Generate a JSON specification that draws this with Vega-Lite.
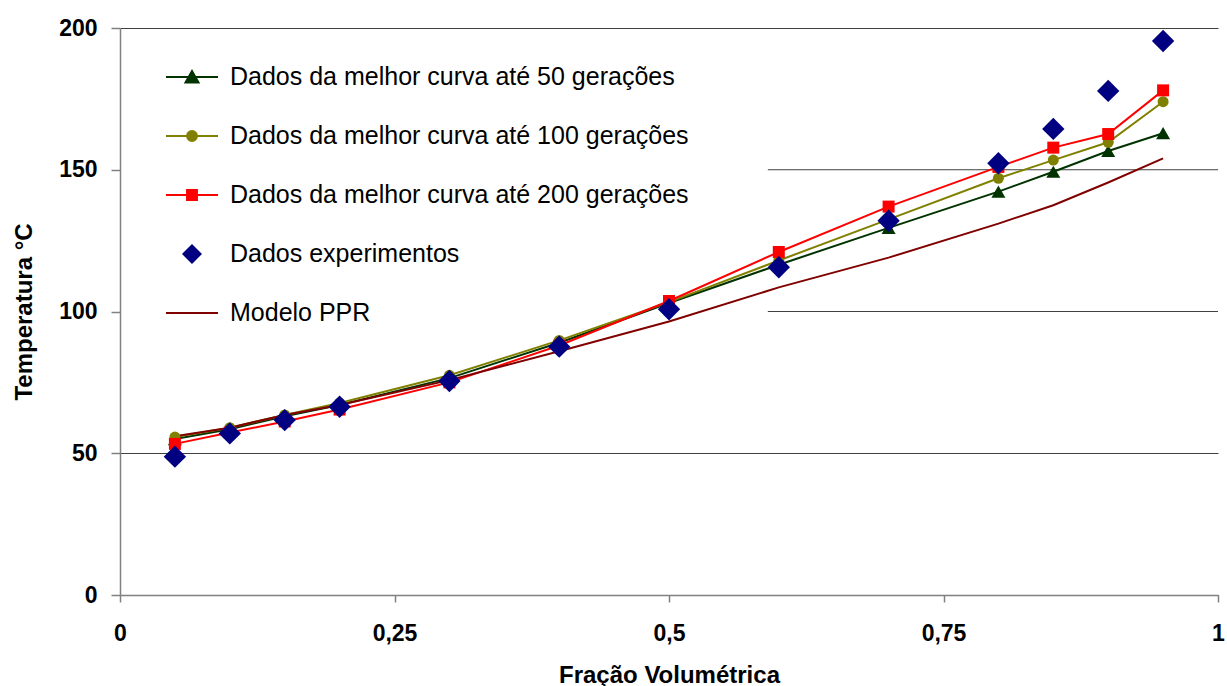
{
  "$schema": "https://vega.github.io/schema/vega-lite/v6.json",
  "width": 1098,
  "height": 567,
  "autosize": {"type": "none"},
  "padding": {"left": 120, "top": 28, "right": 9, "bottom": 91},
  "background": "white",
  "config": {
    "view": {"stroke": null},
    "font": "Liberation Sans"
  },
  "encoding": {
    "x": {
      "field": "x",
      "type": "quantitative",
      "scale": {"domain": [0, 1], "nice": false, "zero": false},
      "axis": {
        "title": "Fração Volumétrica",
        "values": [0, 0.25, 0.5, 0.75, 1],
        "labelExpr": "replace(toString(datum.value), '.', ',')",
        "grid": false,
        "domainColor": "#808080",
        "domainWidth": 1.5,
        "tickColor": "#808080",
        "tickWidth": 1.5,
        "tickSize": 7,
        "labelPadding": 20,
        "labelFont": "Liberation Sans",
        "labelFontSize": 23,
        "labelFontWeight": "bold",
        "labelColor": "black",
        "labelFlush": false,
        "labelOverlap": false,
        "titleFont": "Liberation Sans",
        "titleFontSize": 24,
        "titleFontWeight": "bold",
        "titleColor": "black",
        "titlePadding": 18
      }
    },
    "y": {
      "field": "T",
      "type": "quantitative",
      "scale": {"domain": [0, 200], "nice": false},
      "axis": {
        "title": "Temperatura °C",
        "values": [0, 50, 100, 150, 200],
        "grid": true,
        "gridColor": "#404040",
        "gridWidth": 1,
        "gridOpacity": {"condition": {"test": "datum.value === 100 || datum.value === 150", "value": 0}, "value": 1},
        "domainColor": "#808080",
        "domainWidth": 1.5,
        "tickColor": "#808080",
        "tickWidth": 1.5,
        "tickSize": 9,
        "labelPadding": 14,
        "labelFont": "Liberation Sans",
        "labelFontSize": 23,
        "labelFontWeight": "bold",
        "labelColor": "black",
        "labelFlush": false,
        "labelOverlap": false,
        "titleFont": "Liberation Sans",
        "titleFontSize": 24,
        "titleFontWeight": "bold",
        "titleColor": "black",
        "titlePadding": 22
      }
    }
  },
  "layer": [
    {
      "data": {"values": [{"xi": 0.59, "xf": 1, "T": 100}, {"xi": 0.59, "xf": 1, "T": 150}]},
      "mark": {"type": "rule", "color": "#404040", "strokeWidth": 1},
      "encoding": {
        "x": {"field": "xi", "type": "quantitative"},
        "x2": {"field": "xf"},
        "y": {"field": "T", "type": "quantitative"}
      }
    },
    {
      "data": {
        "values": [
          {"x": 0.05, "serie": "Dados da melhor curva até 50 gerações", "T": 55.0},
          {"x": 0.1, "serie": "Dados da melhor curva até 50 gerações", "T": 58.5},
          {"x": 0.15, "serie": "Dados da melhor curva até 50 gerações", "T": 63.0},
          {"x": 0.2, "serie": "Dados da melhor curva até 50 gerações", "T": 67.0},
          {"x": 0.3, "serie": "Dados da melhor curva até 50 gerações", "T": 76.5},
          {"x": 0.4, "serie": "Dados da melhor curva até 50 gerações", "T": 89.0},
          {"x": 0.5, "serie": "Dados da melhor curva até 50 gerações", "T": 103.0},
          {"x": 0.6, "serie": "Dados da melhor curva até 50 gerações", "T": 116.5},
          {"x": 0.7, "serie": "Dados da melhor curva até 50 gerações", "T": 129.5},
          {"x": 0.8, "serie": "Dados da melhor curva até 50 gerações", "T": 142.3},
          {"x": 0.85, "serie": "Dados da melhor curva até 50 gerações", "T": 149.3},
          {"x": 0.9, "serie": "Dados da melhor curva até 50 gerações", "T": 156.6},
          {"x": 0.95, "serie": "Dados da melhor curva até 50 gerações", "T": 162.9},
          {"x": 0.05, "serie": "Dados da melhor curva até 100 gerações", "T": 55.7},
          {"x": 0.1, "serie": "Dados da melhor curva até 100 gerações", "T": 59.0},
          {"x": 0.15, "serie": "Dados da melhor curva até 100 gerações", "T": 63.5},
          {"x": 0.2, "serie": "Dados da melhor curva até 100 gerações", "T": 67.7},
          {"x": 0.3, "serie": "Dados da melhor curva até 100 gerações", "T": 77.5},
          {"x": 0.4, "serie": "Dados da melhor curva até 100 gerações", "T": 89.8},
          {"x": 0.5, "serie": "Dados da melhor curva até 100 gerações", "T": 103.3},
          {"x": 0.6, "serie": "Dados da melhor curva até 100 gerações", "T": 118.0},
          {"x": 0.7, "serie": "Dados da melhor curva até 100 gerações", "T": 132.5},
          {"x": 0.8, "serie": "Dados da melhor curva até 100 gerações", "T": 147.0},
          {"x": 0.85, "serie": "Dados da melhor curva até 100 gerações", "T": 153.4},
          {"x": 0.9, "serie": "Dados da melhor curva até 100 gerações", "T": 159.7},
          {"x": 0.95, "serie": "Dados da melhor curva até 100 gerações", "T": 174.0},
          {"x": 0.05, "serie": "Dados da melhor curva até 200 gerações", "T": 53.3},
          {"x": 0.1, "serie": "Dados da melhor curva até 200 gerações", "T": 57.3},
          {"x": 0.15, "serie": "Dados da melhor curva até 200 gerações", "T": 61.2},
          {"x": 0.2, "serie": "Dados da melhor curva até 200 gerações", "T": 65.4},
          {"x": 0.3, "serie": "Dados da melhor curva até 200 gerações", "T": 75.0},
          {"x": 0.4, "serie": "Dados da melhor curva até 200 gerações", "T": 88.0},
          {"x": 0.5, "serie": "Dados da melhor curva até 200 gerações", "T": 103.7},
          {"x": 0.6, "serie": "Dados da melhor curva até 200 gerações", "T": 121.0},
          {"x": 0.7, "serie": "Dados da melhor curva até 200 gerações", "T": 137.0},
          {"x": 0.8, "serie": "Dados da melhor curva até 200 gerações", "T": 151.0},
          {"x": 0.85, "serie": "Dados da melhor curva até 200 gerações", "T": 157.8},
          {"x": 0.9, "serie": "Dados da melhor curva até 200 gerações", "T": 162.6},
          {"x": 0.95, "serie": "Dados da melhor curva até 200 gerações", "T": 178.0},
          {"x": 0.05, "serie": "Dados experimentos", "T": 48.8},
          {"x": 0.1, "serie": "Dados experimentos", "T": 57.0},
          {"x": 0.15, "serie": "Dados experimentos", "T": 61.7},
          {"x": 0.2, "serie": "Dados experimentos", "T": 66.4},
          {"x": 0.3, "serie": "Dados experimentos", "T": 75.5},
          {"x": 0.4, "serie": "Dados experimentos", "T": 87.6},
          {"x": 0.5, "serie": "Dados experimentos", "T": 100.8},
          {"x": 0.6, "serie": "Dados experimentos", "T": 115.6},
          {"x": 0.7, "serie": "Dados experimentos", "T": 132.0},
          {"x": 0.8, "serie": "Dados experimentos", "T": 152.3},
          {"x": 0.85, "serie": "Dados experimentos", "T": 164.4},
          {"x": 0.9, "serie": "Dados experimentos", "T": 177.8},
          {"x": 0.95, "serie": "Dados experimentos", "T": 195.4},
          {"x": 0.05, "serie": "Modelo PPR", "T": 56.0},
          {"x": 0.1, "serie": "Modelo PPR", "T": 59.0},
          {"x": 0.15, "serie": "Modelo PPR", "T": 63.5},
          {"x": 0.2, "serie": "Modelo PPR", "T": 67.0},
          {"x": 0.3, "serie": "Modelo PPR", "T": 75.8},
          {"x": 0.4, "serie": "Modelo PPR", "T": 86.0},
          {"x": 0.5, "serie": "Modelo PPR", "T": 96.5},
          {"x": 0.6, "serie": "Modelo PPR", "T": 108.5},
          {"x": 0.7, "serie": "Modelo PPR", "T": 119.0},
          {"x": 0.8, "serie": "Modelo PPR", "T": 131.0},
          {"x": 0.85, "serie": "Modelo PPR", "T": 137.5},
          {"x": 0.9, "serie": "Modelo PPR", "T": 145.5},
          {"x": 0.95, "serie": "Modelo PPR", "T": 154.0}
        ]
      },
      "encoding": {
        "color": {
          "field": "serie",
          "type": "nominal",
          "scale": {
            "domain": [
              "Dados da melhor curva até 50 gerações",
              "Dados da melhor curva até 100 gerações",
              "Dados da melhor curva até 200 gerações",
              "Dados experimentos",
              "Modelo PPR"
            ],
            "range": ["#003300", "#808000", "#ff0000", "#000080", "#800000"]
          },
          "legend": {
            "title": null,
            "orient": "none",
            "legendX": 45,
            "legendY": 22,
            "padding": 0,
            "fillColor": null,
            "strokeColor": null,
            "symbolSize": 2704,
            "symbolStrokeWidth": 2,
            "symbolOpacity": 1,
            "rowPadding": 19,
            "labelOffset": 11,
            "labelFont": "Liberation Sans",
            "labelFontSize": 25,
            "labelColor": "black",
            "labelLimit": 800,
            "encode": {
              "symbols": {
                "update": {
                  "shape": {"signal": "['M-1,0H1M-0.25,0.21L0,-0.23L0.25,0.21Z','M-1,0H1M-0.19,0A0.19,0.19,0,1,0,0.19,0A0.19,0.19,0,1,0,-0.19,0Z','M-1,0H1M-0.19,-0.19H0.19V0.19H-0.19Z','M-0.33,0L0,-0.33L0.33,0L0,0.33Z','M-1,0H1'][datum.index]"},
                  "fill": {"signal": "['#003300','#808000','#ff0000','#000080','transparent'][datum.index]"},
                  "stroke": {"signal": "['#003300','#808000','#ff0000','#000080','#800000'][datum.index]"},
                  "strokeWidth": {"value": 2},
                  "opacity": {"value": 1},
                  "fillOpacity": {"value": 1},
                  "strokeOpacity": {"value": 1}
                }
              }
            }
          }
        }
      },
      "layer": [
        {
          "transform": [{"filter": "datum.serie != 'Dados experimentos'"}],
          "mark": {"type": "line", "strokeWidth": 2}
        },
        {
          "transform": [{"filter": "datum.serie == 'Dados da melhor curva até 50 gerações'"}],
          "mark": {"type": "point", "shape": "triangle-up", "size": 196, "filled": true, "opacity": 1, "strokeWidth": 0}
        },
        {
          "transform": [{"filter": "datum.serie == 'Dados da melhor curva até 100 gerações'"}],
          "mark": {"type": "point", "shape": "circle", "size": 121, "filled": true, "opacity": 1, "strokeWidth": 0}
        },
        {
          "transform": [{"filter": "datum.serie == 'Dados da melhor curva até 200 gerações'"}],
          "mark": {"type": "point", "shape": "square", "size": 144, "filled": true, "opacity": 1, "strokeWidth": 0}
        },
        {
          "transform": [{"filter": "datum.serie == 'Dados experimentos'"}],
          "mark": {"type": "point", "shape": "diamond", "size": 500, "filled": true, "opacity": 1, "strokeWidth": 0}
        }
      ]
    }
  ]
}
